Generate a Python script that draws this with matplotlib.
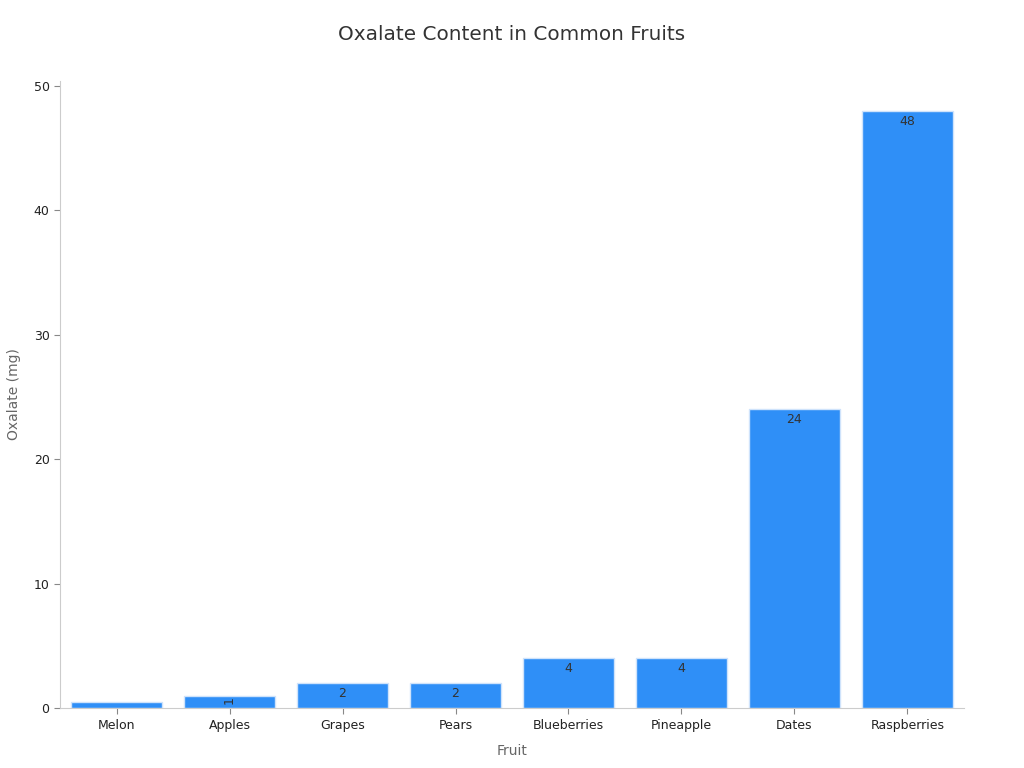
import numpy as np
import matplotlib.pyplot as plt

fruits = ['Melon', 'Apples', 'Grapes', 'Pears', 'Blueberries', 'Pineapple', 'Dates', 'Raspberries']
oxalate = [0.5, 1, 2, 2, 4, 4, 24, 48]

plt.rcParams['font.family'] = ['DejaVu Sans']

fig = plt.figure(figsize=(10.24, 7.68), dpi=100)
ax = fig.add_axes([0.0586, 0.078, 0.8828, 0.817])

x = np.arange(len(fruits))
bars = ax.bar(x, oxalate, width=0.8, color='#2f8ff7', edgecolor='#cfe3fb', linewidth=1)

# value labels just inside the top of each bar
for xi, v in zip(x, oxalate):
    if v < 1:
        continue
    if v == 1:
        ax.text(xi, v - 0.35, '%d' % v, ha='center', va='center', fontsize=9,
                color='#333333', rotation=90, clip_on=True)
    else:
        ax.annotate('%d' % v, (xi, v), xytext=(0, -3), textcoords='offset points',
                    ha='center', va='top', fontsize=9, color='#333333')

ax.set_xlim(-0.5, 7.5)
ax.set_ylim(0, 50.4)
ax.set_xticks(x)
ax.set_xticklabels(fruits, fontsize=9, color='#222222')
ax.set_yticks([0, 10, 20, 30, 40, 50])
ax.tick_params(axis='y', labelsize=9, colors='#222222', length=4, color='#888888')
ax.tick_params(axis='x', length=4, color='#888888')
for s in ['top', 'right']:
    ax.spines[s].set_visible(False)
for s in ['left', 'bottom']:
    ax.spines[s].set_color('#cccccc')

ax.set_xlabel('Fruit', fontsize=10, color='#666666', labelpad=9)
ax.set_ylabel('Oxalate (mg)', fontsize=10, color='#666666', labelpad=9)
fig.suptitle('Oxalate Content in Common Fruits', fontsize=14.4, color='#333333', y=0.968)

fig.savefig('out.png', dpi=100)
